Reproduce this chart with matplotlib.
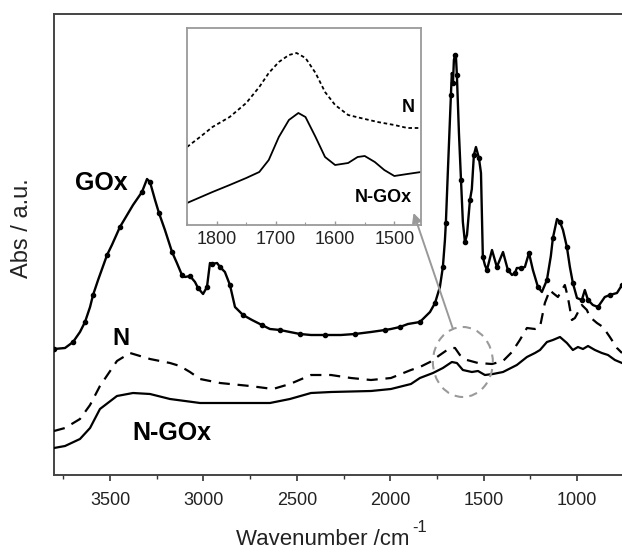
import matplotlib
matplotlib.use("Agg")
import matplotlib.pyplot as plt
from matplotlib.patches import Ellipse
from matplotlib.ticker import MultipleLocator

plt.rcParams['font.family'] = ['Liberation Sans', 'DejaVu Sans']

# ---- main spectra (wavenumber, absorbance a.u.) ----
gox_wn = [3800, 3741, 3698, 3661, 3634, 3607, 3591, 3564, 3516, 3490, 3447, 3377, 3329, 3302,
          3286, 3259, 3238, 3206, 3168, 3142, 3115, 3099, 3072, 3045, 3029, 3002, 2981, 2965,
          2954, 2927, 2911, 2885, 2858, 2831, 2788, 2740, 2687, 2644, 2590, 2537, 2483, 2424,
          2349, 2264, 2189, 2103, 2028, 1996, 1948, 1905,
          1841, 1787, 1760, 1734, 1718, 1707, 1702, 1691, 1675, 1670, 1664, 1659, 1653, 1648,
          1643, 1632, 1621, 1611, 1600, 1589, 1573, 1563, 1552, 1541, 1525, 1514, 1504, 1493,
          1482, 1455, 1429, 1396, 1370, 1348, 1332, 1322, 1300, 1279, 1257, 1236, 1209, 1188,
          1161, 1140, 1129, 1107, 1091, 1075, 1054, 1038, 1022, 1000, 974, 958, 941, 915, 888,
          851, 824, 786, 759]
gox_abs = [1.26, 1.27, 1.33, 1.43, 1.53, 1.68, 1.80, 1.95, 2.20, 2.30, 2.48, 2.70, 2.83, 2.96,
           2.93, 2.75, 2.62, 2.45, 2.23, 2.12, 2.00, 1.98, 1.99, 1.93, 1.87, 1.81, 1.88, 2.12,
           2.11, 2.12, 2.08, 2.03, 1.90, 1.68, 1.60, 1.55, 1.50, 1.46, 1.45, 1.43, 1.41, 1.40,
           1.40, 1.40, 1.41, 1.43, 1.45, 1.46, 1.48, 1.51,
           1.53, 1.63, 1.72, 1.88, 2.08, 2.35, 2.52, 3.05, 3.80, 4.02, 3.92, 4.15, 4.20, 4.18,
           4.00, 3.42, 2.95, 2.53, 2.33, 2.40, 2.75, 2.86, 3.20, 3.28, 3.17, 3.02, 2.18, 2.10,
           2.05, 2.25, 2.08, 2.23, 2.05, 2.00, 2.02, 2.07, 2.07, 2.08, 2.22, 2.05, 1.88, 1.83,
           1.95, 2.19, 2.37, 2.56, 2.53, 2.45, 2.28, 2.08, 1.92, 1.77, 1.75, 1.85, 1.75, 1.70,
           1.68, 1.78, 1.80, 1.82, 1.90]

n_wn = [3800, 3741, 3661, 3607, 3554, 3463, 3393, 3286, 3179, 3126, 3072, 3018, 2911, 2751,
        2628, 2537, 2424, 2317, 2210, 2103, 1996, 1889, 1841, 1787, 1734, 1680, 1653, 1627,
        1589, 1530, 1455, 1396, 1348, 1306, 1268, 1225, 1198, 1172, 1145, 1129, 1102, 1081,
        1065, 1049, 1027, 1011, 974, 947, 931, 893, 861, 824, 786, 759]
n_abs = [0.44, 0.47, 0.56, 0.70, 0.89, 1.14, 1.22, 1.16, 1.12, 1.09, 1.03, 0.96, 0.92, 0.89,
         0.86, 0.91, 1.00, 1.00, 0.97, 0.95, 0.97, 1.05, 1.08, 1.13, 1.20, 1.27, 1.27, 1.20,
         1.15, 1.12, 1.11, 1.14, 1.23, 1.35, 1.47, 1.46, 1.48, 1.72, 1.85, 1.82, 1.78, 1.85,
         1.90, 1.78, 1.55, 1.57, 1.70, 1.65, 1.58, 1.52, 1.48, 1.38, 1.27, 1.22]

ngox_wn = [3800, 3741, 3661, 3607, 3554, 3463, 3377, 3286, 3179, 3018, 2858, 2644, 2537, 2424,
           2317, 2103, 1996, 1889, 1841, 1771, 1718, 1670, 1643, 1611, 1563, 1530, 1493, 1450,
           1396, 1322, 1268, 1225, 1198, 1161, 1129, 1091, 1054, 1022, 995, 968, 941, 904, 867,
           834, 797, 759]
ngox_abs = [0.27, 0.29, 0.36, 0.47, 0.66, 0.79, 0.82, 0.81, 0.76, 0.72, 0.72, 0.72, 0.76, 0.82,
            0.83, 0.84, 0.86, 0.91, 0.97, 1.02, 1.07, 1.13, 1.12, 1.05, 1.03, 1.04, 1.00, 1.01,
            1.03, 1.10, 1.18, 1.22, 1.25, 1.33, 1.35, 1.38, 1.32, 1.25, 1.28, 1.26, 1.29, 1.25,
            1.22, 1.20, 1.15, 1.12]

# ---- inset spectra ----
in_n_wn = [1850, 1828, 1807, 1778, 1750, 1728, 1712, 1695, 1678, 1665, 1650, 1633, 1617, 1600,
           1578, 1557, 1528, 1500, 1478, 1455]
in_n_abs = [0.78, 0.88, 0.98, 1.08, 1.22, 1.38, 1.52, 1.63, 1.70, 1.72, 1.67, 1.52, 1.33, 1.20,
            1.10, 1.07, 1.03, 1.00, 0.97, 0.97]
in_ngox_wn = [1850, 1807, 1778, 1750, 1728, 1712, 1695, 1678, 1662, 1650, 1633, 1617, 1600, 1578,
              1562, 1550, 1533, 1517, 1500, 1478, 1455]
in_ngox_abs = [0.22, 0.33, 0.40, 0.47, 0.53, 0.65, 0.88, 1.05, 1.12, 1.08, 0.88, 0.68, 0.60, 0.62,
               0.68, 0.69, 0.63, 0.55, 0.49, 0.51, 0.53]

main_ticks = [3500, 3000, 2500, 2000, 1500, 1000]
inset_ticks = [1800, 1700, 1600, 1500]

fig = plt.figure(figsize=(6.22, 5.52), dpi=100)
ax = fig.add_axes([54/622, 77/552, 1 - 54/622, 461/552])

ax.plot(gox_wn, gox_abs, color='black', lw=1.7, marker='o', ms=3.0, markevery=2, zorder=3)
ax.plot(n_wn, n_abs, color='black', lw=1.6, dashes=(5, 3.5), zorder=3)
ax.plot(ngox_wn, ngox_abs, color='black', lw=1.6, zorder=3)

ax.set_xlim(3800, 759)
ax.set_ylim(0, 4.61)
ax.set_yticks([])
ax.set_xticks(main_ticks)
ax.xaxis.set_minor_locator(MultipleLocator(250))
ax.tick_params(axis='x', which='major', direction='out', length=4, width=1.2,
               labelsize=13, pad=8, colors='#333333', labelcolor='#222222')
ax.tick_params(axis='x', which='minor', direction='out', length=3, width=1.0, colors='#333333')
for s in ['left', 'top', 'bottom']:
    ax.spines[s].set_color('#444444')
    ax.spines[s].set_linewidth(1.4)
ax.spines['right'].set_visible(False)

ax.set_xlabel('Wavenumber /cm', fontsize=16, color='#222222')
ax.xaxis.set_label_coords((323 - 54) / 568, -0.118)
fig.text(412/622, (552-527)/552, '-1', fontsize=12, color='#222222', ha='left', va='center')
ax.set_ylabel('Abs / a.u.', fontsize=17, color='#222222')
ax.yaxis.set_label_coords(-0.037, 0.536)

ax.text(3545, 2.92, 'GOx', fontsize=18, fontweight='bold', ha='center', va='center')
ax.text(3440, 1.25, 'N', fontsize=17, fontweight='bold', ha='center', va='bottom')
ax.text(3170, 0.42, 'N-GOx', fontsize=18, fontweight='bold', ha='center', va='center')

ell = Ellipse((1611, 1.13), width=321, height=0.70, fill=False, edgecolor='#9a9a9a',
              lw=1.5, linestyle=(0, (4, 3)), zorder=4)
ax.add_patch(ell)

# inset
axin = fig.add_axes([187/622, (552-225)/552, (421-187)/622, 197/552])
axin.plot(in_n_wn, in_n_abs, color='black', lw=1.3, dashes=(2, 1.5))
axin.plot(in_ngox_wn, in_ngox_abs, color='black', lw=1.3)
axin.set_xlim(1850, 1455)
axin.set_ylim(0, 1.97)
axin.set_yticks([])
axin.set_xticks(inset_ticks)
axin.xaxis.set_minor_locator(MultipleLocator(50))
axin.tick_params(axis='x', which='major', direction='in', length=3, width=1, colors='#999999',
                 labelsize=13, labelcolor='#222222', pad=4)
axin.tick_params(axis='x', which='minor', direction='in', length=2, width=0.8, colors='#999999')
for s in axin.spines.values():
    s.set_color('#9a9a9a')
    s.set_linewidth(1.3)
axin.text(1477, 1.17, 'N', fontsize=13, fontweight='bold', ha='center', va='center')
axin.text(1518, 0.28, 'N-GOx', fontsize=13, fontweight='bold', ha='center', va='center')

axin.annotate('', xy=(1875, 2.62), xycoords=ax.transData,
              xytext=(1664, 1.46), textcoords=ax.transData,
              arrowprops=dict(arrowstyle='-|>', color='#999999', lw=1.4,
                              mutation_scale=14, shrinkA=0, shrinkB=0),
              annotation_clip=False)

fig.savefig('out.png', dpi=100)
